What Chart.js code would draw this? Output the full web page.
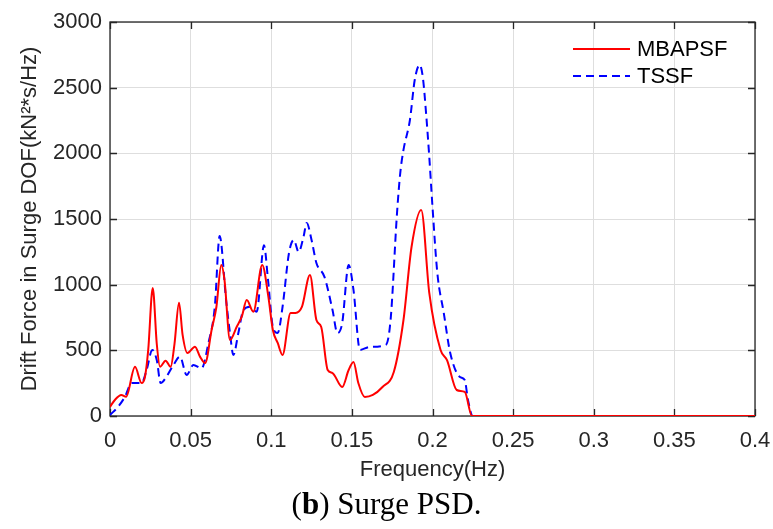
<!DOCTYPE html>
<html>
<head>
<meta charset="utf-8">
<script src="https://cdn.jsdelivr.net/npm/chart.js@4/dist/chart.umd.min.js"></script>
<style>
  html, body { margin: 0; padding: 0; background: #fff; }
  #wrap { position: relative; width: 773px; height: 529px; }
  #caption {
    position: absolute; left: 0; width: 773px; top: 486px;
    text-align: center; font-family: "Liberation Serif", serif; font-size: 31px;
    color: #000; line-height: 36px;
  }
</style>
</head>
<body>
<div id="wrap">
  <canvas id="chartCanvas" width="773" height="529"></canvas>
  <div id="caption">(<b>b</b>) Surge PSD.</div>
</div>
<script>
// MBAPSF (red, solid)
const freqMbapsf = [0, 0.003, 0.007, 0.010, 0.0155, 0.0196, 0.0217, 0.0237, 0.0265, 0.029, 0.031, 0.0345, 0.0376,
  0.040, 0.0428, 0.045, 0.048, 0.0527, 0.0558, 0.059, 0.063, 0.066, 0.069, 0.071, 0.0744, 0.0786, 0.0817, 0.0848,
  0.0889, 0.0944, 0.0982, 0.101, 0.104, 0.107, 0.112, 0.115, 0.119, 0.124, 0.128, 0.131, 0.135, 0.138, 0.144,
  0.148, 0.151, 0.154, 0.158, 0.163, 0.169, 0.176, 0.182, 0.187, 0.193, 0.198, 0.205, 0.209, 0.215, 0.220,
  0.2245, 0.23, 0.4];
const valMbapsf = [70, 122, 160, 147, 375, 251, 299, 503, 975, 550, 375, 421, 375,
  550, 863, 620, 480, 528, 452, 403, 655, 832, 1150, 1036, 579, 680, 756, 883,
  794, 1150, 909, 655, 556, 465, 784, 784, 830, 1074, 731, 678, 350, 327, 221,
  350, 411, 251, 145, 160, 221, 335, 731, 1287, 1569, 937, 503, 426, 198, 183,
  0, 0, 0];

// TSSF (blue, dashed)
const freqTssf = [0, 0.005, 0.0093, 0.0134, 0.0196, 0.0227, 0.0262, 0.029, 0.0314, 0.035, 0.0393, 0.0434, 0.0475,
  0.0517, 0.0568, 0.061, 0.065, 0.068, 0.072, 0.0744, 0.0765, 0.0796, 0.0827, 0.0868, 0.091, 0.0955, 0.098,
  0.101, 0.104, 0.107, 0.111, 0.114, 0.117, 0.120, 0.122, 0.125, 0.128, 0.133, 0.138, 0.141, 0.144, 0.148,
  0.151, 0.155, 0.161, 0.171, 0.174, 0.178, 0.180, 0.182, 0.186, 0.189, 0.192, 0.194, 0.196, 0.198, 0.200,
  0.203, 0.207, 0.211, 0.217, 0.220, 0.222, 0.225, 0.23, 0.4];
const valTssf = [8, 70, 147, 251, 251, 350, 503, 426, 251, 299, 388, 452, 312,
  388, 363, 553, 832, 1370, 883, 632, 465, 632, 807, 832, 794, 1300, 1036,
  678, 632, 830, 1241, 1340, 1249, 1363, 1470, 1340, 1165, 1059, 807, 632, 708, 1150,
  960, 503, 526, 541, 731, 1546, 1850, 2026, 2254, 2560, 2673, 2580, 2308, 1973, 1592,
  1089, 784, 480, 297, 274, 122, 0, 0, 0];

const seriesNames = ['MBAPSF', 'TSSF'];
const xTicks = [0, 0.05, 0.1, 0.15, 0.2, 0.25, 0.3, 0.35, 0.4];
const yTicks = [0, 500, 1000, 1500, 2000, 2500, 3000];

const FONT = '"Liberation Sans", Arial, sans-serif';

function toPoints(xs, ys) {
  return xs.map((x, i) => ({ x: x, y: ys[i] }));
}

// box + inward ticks under the lines, legend on top (MATLAB look)
const framePlugin = {
  id: 'frame',
  beforeDatasetsDraw(chart) {
    const { ctx, chartArea: a, scales } = chart;
    ctx.save();
    ctx.strokeStyle = '#262626';
    ctx.lineWidth = 1.3;
    ctx.strokeRect(a.left, a.top, a.right - a.left, a.bottom - a.top);
    const tl = 7;
    ctx.beginPath();
    xTicks.forEach(v => {
      const px = Math.round(scales.x.getPixelForValue(v)) + 0.5;
      ctx.moveTo(px, a.bottom); ctx.lineTo(px, a.bottom - tl);
      ctx.moveTo(px, a.top); ctx.lineTo(px, a.top + tl);
    });
    yTicks.forEach(v => {
      const py = Math.round(scales.y.getPixelForValue(v)) + 0.5;
      ctx.moveTo(a.left, py); ctx.lineTo(a.left + tl, py);
      ctx.moveTo(a.right, py); ctx.lineTo(a.right - tl, py);
    });
    ctx.stroke();
    ctx.restore();
  },
  afterDraw(chart) {
    const { ctx } = chart;
    ctx.save();
    ctx.font = '22px ' + FONT;
    ctx.textBaseline = 'middle';
    ctx.fillStyle = '#000';
    chart.data.datasets.forEach((ds, i) => {
      const y = 49 + i * 27;
      ctx.beginPath();
      ctx.strokeStyle = ds.borderColor;
      ctx.lineWidth = ds.borderWidth;
      ctx.setLineDash(ds.borderDash || []);
      ctx.moveTo(573, y); ctx.lineTo(630, y);
      ctx.stroke();
      ctx.setLineDash([]);
      ctx.fillText(ds.label, 637, y + 1);
    });
    ctx.restore();
  }
};

const ctx = document.getElementById('chartCanvas').getContext('2d');
const chart = new Chart(ctx, {
  type: 'line',
  data: {
    datasets: [{
      label: seriesNames[0],
      data: toPoints(freqMbapsf, valMbapsf),
      borderColor: '#ff0000',
      borderWidth: 2,
      pointRadius: 0,
      cubicInterpolationMode: 'monotone'
    }, {
      label: seriesNames[1],
      data: toPoints(freqTssf, valTssf),
      borderColor: '#0000ff',
      borderWidth: 2,
      borderDash: [8, 5],
      pointRadius: 0,
      cubicInterpolationMode: 'monotone'
    }]
  },
  options: {
    responsive: false,
    animation: false,
    devicePixelRatio: 1,
    layout: { padding: { top: 22, right: 18, left: 0, bottom: 0 } },
    plugins: { legend: { display: false }, tooltip: { enabled: false } },
    scales: {
      x: {
        type: 'linear',
        min: 0, max: 0.4,
        afterFit: s => { s.height = 113; s.paddingLeft = 0; s.paddingRight = 0; },
        afterBuildTicks: s => { s.ticks = xTicks.map(v => ({ value: v })); },
        grid: { color: '#dedede', lineWidth: 1, drawTicks: false },
        border: { display: false },
        ticks: {
          padding: 12,
          color: '#262626',
          font: { family: FONT, size: 22 },
          callback: v => String(Number(v.toFixed(2)))
        },
        title: {
          display: true,
          text: 'Frequency(Hz)',
          color: '#262626',
          font: { family: FONT, size: 22 },
          padding: { top: 0, bottom: 46 }
        }
      },
      y: {
        min: 0, max: 3000,
        afterFit: s => { s.width = 110; s.paddingTop = 0; s.paddingBottom = 0; },
        afterBuildTicks: s => { s.ticks = yTicks.map(v => ({ value: v })); },
        grid: { color: '#dedede', lineWidth: 1, drawTicks: false },
        border: { display: false },
        ticks: {
          padding: 8,
          color: '#262626',
          font: { family: FONT, size: 22 },
          callback: v => String(v)
        },
        title: {
          display: true,
          text: 'Drift Force in Surge DOF(kN²*s/Hz)',
          color: '#262626',
          font: { family: FONT, size: 22 },
          padding: { top: 17, bottom: 0 }
        }
      }
    }
  },
  plugins: [framePlugin]
});
</script>
</body>
</html>
